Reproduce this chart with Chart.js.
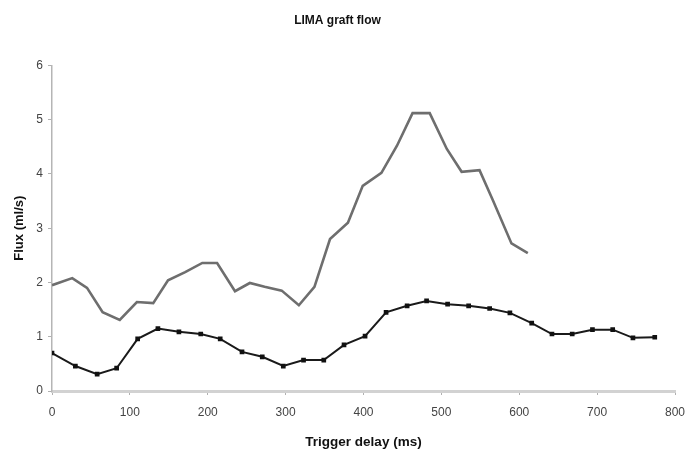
<!DOCTYPE html>
<html>
<head>
<meta charset="utf-8">
<script src="https://cdn.jsdelivr.net/npm/chart.js@4/dist/chart.umd.min.js"></script>
<style>
  html, body { margin: 0; padding: 0; background: #fff; }
  #wrap { width: 688px; height: 453px; }
</style>
</head>
<body>
<div id="wrap"><canvas id="flowChart" width="688" height="453"></canvas></div>
<script>
// Trigger delay (ms) and flux (ml/s)
var upperDelay = [0, 26, 45, 65, 87, 109, 130, 149, 171, 193, 212, 235, 254, 273, 295,
                  317, 337, 357, 380, 399, 423, 443, 463, 485, 507, 526, 549, 566, 590, 611];
var upperFlux = [1.95, 2.08, 1.90, 1.45, 1.31, 1.64, 1.62, 2.04, 2.19, 2.36, 2.36, 1.84, 1.99, 1.92, 1.85,
                 1.58, 1.92, 2.80, 3.10, 3.78, 4.02, 4.52, 5.12, 5.12, 4.46, 4.04, 4.07, 3.52, 2.72, 2.54];

var lowerDelay = [0, 30, 58, 83, 110, 136, 163, 191, 216, 244, 270, 297, 323, 349, 375,
                  402, 429, 456, 481, 508, 535, 562, 588, 616, 642, 668, 694, 720, 746, 774];
var lowerFlux = [0.70, 0.46, 0.31, 0.42, 0.96, 1.15, 1.09, 1.05, 0.96, 0.72, 0.63, 0.46, 0.57, 0.57, 0.85,
                 1.01, 1.45, 1.57, 1.66, 1.60, 1.57, 1.52, 1.44, 1.25, 1.05, 1.05, 1.13, 1.13, 0.98, 0.99];

var xTicks = [0, 100, 200, 300, 400, 500, 600, 700, 800];
var yTicks = [0, 1, 2, 3, 4, 5, 6];

function toPoints(xs, ys) {
    var pts = [];
    for (var i = 0; i < xs.length; i++) {
        pts.push({ x: xs[i], y: ys[i] });
    }
    return pts;
}

var fontFamily = "'Liberation Sans', Arial, sans-serif";

var ctx = document.getElementById('flowChart').getContext('2d');
var flowChart = new Chart(ctx, {
    type: 'scatter',
    data: {
        datasets: [{
            label: 'Upper',
            data: toPoints(upperDelay, upperFlux),
            showLine: true,
            borderColor: '#6e6e6e',
            borderWidth: 2.6,
            pointRadius: 0,
            fill: false
        }, {
            label: 'Lower',
            data: toPoints(lowerDelay, lowerFlux),
            showLine: true,
            borderColor: '#1a1a1a',
            borderWidth: 2,
            pointStyle: 'rect',
            pointRadius: 1.9,
            pointBackgroundColor: '#111',
            pointBorderColor: '#111',
            fill: false
        }]
    },
    options: {
        responsive: false,
        animation: false,
        layout: { padding: { left: 0, right: 13, top: 0, bottom: 0 } },
        plugins: {
            legend: { display: false },
            tooltip: { enabled: false },
            title: {
                display: true,
                text: 'LIMA graft flow',
                color: '#111',
                font: { family: fontFamily, size: 12, weight: 'bold' },
                padding: { top: 13, bottom: 38 }
            }
        },
        scales: {
            x: {
                type: 'linear',
                min: 0,
                max: 800,
                afterBuildTicks: function(scale) {
                    scale.ticks = xTicks.map(function(v) { return { value: v }; });
                },
                afterFit: function(scale) {
                    scale.height = 62;
                    scale.paddingRight = 0;
                    scale.paddingLeft = 0;
                },
                grid: { display: true, drawOnChartArea: false, color: '#b0b0b0', tickLength: 4 },
                border: { color: '#d2d2d2', width: 3 },
                ticks: { color: '#444', font: { family: fontFamily, size: 12 }, padding: 10, maxRotation: 0 },
                title: {
                    display: true,
                    text: 'Trigger delay (ms)',
                    color: '#111',
                    font: { family: fontFamily, size: 13.5, weight: 'bold' },
                    padding: { top: 0, bottom: 3 }
                }
            },
            y: {
                min: 0,
                max: 6,
                afterBuildTicks: function(scale) {
                    scale.ticks = yTicks.map(function(v) { return { value: v }; });
                },
                afterFit: function(scale) { scale.width = 52; },
                grid: { display: true, drawOnChartArea: false, color: '#b0b0b0', tickLength: 4 },
                border: { color: '#b5b5b5', width: 1.5 },
                ticks: { color: '#444', font: { family: fontFamily, size: 12 }, padding: 5 },
                title: {
                    display: true,
                    text: 'Flux (ml/s)',
                    color: '#111',
                    font: { family: fontFamily, size: 13, weight: 'bold' },
                    padding: { top: 12, bottom: 0 }
                }
            }
        }
    }
});
</script>
</body>
</html>
